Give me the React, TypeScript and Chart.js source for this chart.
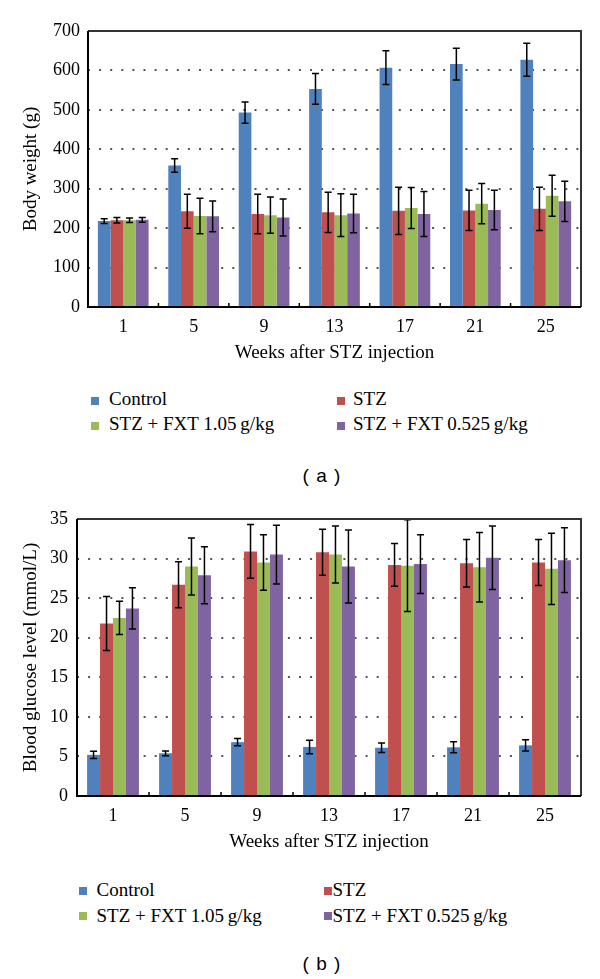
import React, { useEffect, useRef } from 'react';
import { Chart, registerables } from 'chart.js';

Chart.register(...registerables);

const weeks = ['1', '5', '9', '13', '17', '21', '25'];
const seriesNames = ['Control', 'STZ', 'STZ + FXT 1.05\u2009g/kg', 'STZ + FXT 0.525\u2009g/kg'];
const seriesColors = ['#4F81BD', '#C0504D', '#9BBB59', '#8064A2'];

// (a) Body weight (g)
const weightControl = [218, 359, 493, 553, 607, 616, 627];
const weightSTZ = [220, 243, 236, 240, 244, 245, 249];
const weightHigh = [220, 231, 233, 233, 251, 262, 282];
const weightLow = [221, 230, 227, 237, 236, 246, 268];
const weightControlErr = [6, 17, 27, 39, 43, 40, 42];
const weightSTZErr = [7, 43, 50, 51, 60, 51, 55];
const weightHighErr = [6, 45, 46, 54, 52, 51, 52];
const weightLowErr = [6, 39, 47, 49, 57, 50, 51];
const weightTicks = [0, 700, 100];

// (b) Blood glucose level (mmol/L)
const glucoseControl = [5.2, 5.4, 6.8, 6.2, 6.1, 6.15, 6.4];
const glucoseSTZ = [21.8, 26.7, 30.9, 30.8, 29.2, 29.4, 29.5];
const glucoseHigh = [22.5, 29.0, 29.5, 30.5, 29.1, 28.9, 28.7];
const glucoseLow = [23.7, 27.9, 30.5, 29.0, 29.3, 30.1, 29.8];
const glucoseControlErr = [0.45, 0.3, 0.45, 0.85, 0.6, 0.7, 0.7];
const glucoseSTZErr = [3.4, 2.9, 3.4, 2.9, 2.7, 3.0, 2.9];
const glucoseHighErr = [2.1, 3.6, 3.5, 3.6, 5.8, 4.4, 4.5];
const glucoseLowErr = [2.6, 3.6, 3.7, 4.6, 3.7, 4.0, 4.1];
const glucoseTicks = [0, 35, 5];

const SERIF = "'Liberation Serif', 'Times New Roman', serif";
const SANS = "'Liberation Sans', Arial, sans-serif";

const errorBarPlugin = {
  id: 'errorBars',
  afterDatasetsDraw(chart: any, _args: any, opts: any) {
    const errs: number[][] = opts.errors;
    const y = chart.scales.y;
    const ctx = chart.ctx;
    ctx.save();
    ctx.strokeStyle = '#000';
    ctx.lineWidth = 1.5;
    chart.data.datasets.forEach((ds: any, i: number) => {
      const meta = chart.getDatasetMeta(i);
      meta.data.forEach((el: any, j: number) => {
        const v = ds.data[j] as number;
        const e = errs[i][j];
        const x = el.x;
        const yt = y.getPixelForValue(v + e);
        const yb = y.getPixelForValue(v - e);
        ctx.beginPath();
        ctx.moveTo(x, yt);
        ctx.lineTo(x, yb);
        ctx.moveTo(x - 3.5, yt);
        ctx.lineTo(x + 3.5, yt);
        ctx.moveTo(x - 3.5, yb);
        ctx.lineTo(x + 3.5, yb);
        ctx.stroke();
      });
    });
    ctx.restore();
  },
};

const framePlugin = {
  id: 'frame',
  afterDraw(chart: any) {
    const { ctx, chartArea } = chart;
    const { left, right, top, bottom } = chartArea;
    const x = chart.scales.x;
    ctx.save();
    ctx.lineWidth = 2;
    ctx.strokeStyle = '#333';
    ctx.beginPath();
    ctx.moveTo(left, top);
    ctx.lineTo(right, top);
    ctx.lineTo(right, bottom);
    ctx.stroke();
    ctx.strokeStyle = '#000';
    ctx.beginPath();
    ctx.moveTo(left, top);
    ctx.lineTo(left, bottom);
    ctx.lineTo(right, bottom);
    ctx.stroke();
    ctx.lineWidth = 1.5;
    ctx.beginPath();
    for (let i = 1; i < x.ticks.length; i++) {
      const px = (x.getPixelForTick(i - 1) + x.getPixelForTick(i)) / 2;
      ctx.moveTo(px, bottom);
      ctx.lineTo(px, bottom - 4);
    }
    ctx.stroke();
    ctx.restore();
  },
};

type ChartSpec = {
  values: number[][];
  errors: number[][];
  ticks: number[];
  yTitle: string;
  height: number;
  padTop: number;
  padRight: number;
  yWidth: number;
  xHeight: number;
  xLabelPad: number;
  xTitlePad: number;
  yLabelPad: number;
};

function BarChart({ spec }: { spec: ChartSpec }) {
  const ref = useRef<HTMLCanvasElement | null>(null);
  useEffect(() => {
    if (!ref.current) return;
    const [min, max, step] = spec.ticks;
    const chart = new Chart(ref.current, {
      type: 'bar',
      data: {
        labels: weeks,
        datasets: spec.values.map((vals, i) => ({
          label: seriesNames[i],
          data: vals,
          backgroundColor: seriesColors[i],
          borderWidth: 0,
          categoryPercentage: 0.72,
          barPercentage: 1.0,
        })),
      },
      options: {
        responsive: false,
        animation: false,
        devicePixelRatio: 1,
        layout: { padding: { top: spec.padTop, right: spec.padRight, left: 0, bottom: 0 } },
        plugins: {
          legend: { display: false },
          tooltip: { enabled: false },
          errorBars: { errors: spec.errors },
        } as any,
        scales: {
          x: {
            grid: { display: false, drawTicks: false },
            border: { display: false },
            ticks: { color: '#000', padding: spec.xLabelPad, font: { family: SERIF, size: 18 } },
            title: {
              display: true,
              text: 'Weeks after STZ injection',
              color: '#000',
              font: { family: SERIF, size: 19 },
              padding: { top: 0, bottom: spec.xTitlePad },
            },
            afterFit: (s: any) => {
              s.height = spec.xHeight;
            },
          },
          y: {
            min,
            max,
            ticks: { stepSize: step, color: '#000', padding: spec.yLabelPad, font: { family: SERIF, size: 18 } },
            grid: {
              drawTicks: false,
              lineWidth: 2,
              color: (c: any) =>
                c.tick && (c.tick.value === min || c.tick.value === max) ? 'rgba(0,0,0,0)' : '#555',
            },
            border: { display: false, dash: [2, 9.1] },
            title: {
              display: true,
              text: spec.yTitle,
              color: '#000',
              font: { family: SERIF, size: 19 },
              padding: { top: 20, bottom: 0 },
            },
            afterFit: (s: any) => {
              s.width = spec.yWidth;
            },
          },
        },
      },
      plugins: [errorBarPlugin, framePlugin],
    } as any);
    return () => chart.destroy();
  }, [spec]);
  return (
    <canvas
      ref={ref}
      width={600}
      height={spec.height}
      style={{ width: 600, height: spec.height, display: 'block' }}
    />
  );
}

type LegendSpec = {
  rows: number[];
  textRows: number[];
  markerX: number[];
  textX: number[];
};

function Legend({ spec }: { spec: LegendSpec }) {
  return (
    <>
      {seriesNames.map((name, i) => {
        const col = i % 2;
        const row = Math.floor(i / 2);
        return (
          <React.Fragment key={name}>
            <div
              style={{
                position: 'absolute',
                left: spec.markerX[col],
                top: spec.rows[row] - 4,
                width: 8,
                height: 8,
                background: seriesColors[i],
              }}
            />
            <div
              style={{
                position: 'absolute',
                left: spec.textX[col],
                top: spec.textRows[row] - 12,
                height: 24,
                lineHeight: '24px',
                fontFamily: SERIF,
                fontSize: 19,
                color: '#000',
                whiteSpace: 'nowrap',
              }}
            >
              {name}
            </div>
          </React.Fragment>
        );
      })}
    </>
  );
}

function Caption({ text, cy }: { text: string; cy: number }) {
  return (
    <div
      style={{
        position: 'absolute',
        left: 222,
        width: 200,
        top: cy - 12,
        height: 24,
        lineHeight: '24px',
        textAlign: 'center',
        fontFamily: SANS,
        fontSize: 19,
        letterSpacing: 1,
        color: '#000',
        whiteSpace: 'pre',
      }}
    >
      {text}
    </div>
  );
}

const specA: ChartSpec = {
  values: [weightControl, weightSTZ, weightHigh, weightLow],
  errors: [weightControlErr, weightSTZErr, weightHighErr, weightLowErr],
  ticks: weightTicks,
  yTitle: 'Body weight (g)',
  height: 380,
  padTop: 31,
  padRight: 19,
  yWidth: 88,
  xHeight: 73,
  xLabelPad: 9,
  xTitlePad: 15.5,
  yLabelPad: 8,
};

const specB: ChartSpec = {
  values: [glucoseControl, glucoseSTZ, glucoseHigh, glucoseLow],
  errors: [glucoseControlErr, glucoseSTZErr, glucoseHighErr, glucoseLowErr],
  ticks: glucoseTicks,
  yTitle: 'Blood glucose level (mmol/L)',
  height: 390,
  padTop: 39,
  padRight: 19,
  yWidth: 77,
  xHeight: 74,
  xLabelPad: 9.5,
  xTitlePad: 17,
  yLabelPad: 9,
};

const legendA: LegendSpec = { rows: [400.5, 426], textRows: [398.5, 424], markerX: [91, 337], textX: [109, 353] };
const legendB: LegendSpec = { rows: [891, 915.5], textRows: [890, 915.5], markerX: [78.5, 323.5], textX: [96.5, 332.5] };

export default function App() {
  return (
    <div style={{ position: 'absolute', left: 0, top: 0, width: 600, height: 979, background: '#fff', overflow: 'hidden' }}>
      <div style={{ position: 'absolute', left: 0, top: 0 }}>
        <BarChart spec={specA} />
      </div>
      <Legend spec={legendA} />
      <Caption text="( a )" cy={476} />
      <div style={{ position: 'absolute', left: 0, top: 480 }}>
        <BarChart spec={specB} />
      </div>
      <Legend spec={legendB} />
      <Caption text="( b )" cy={964} />
    </div>
  );
}
